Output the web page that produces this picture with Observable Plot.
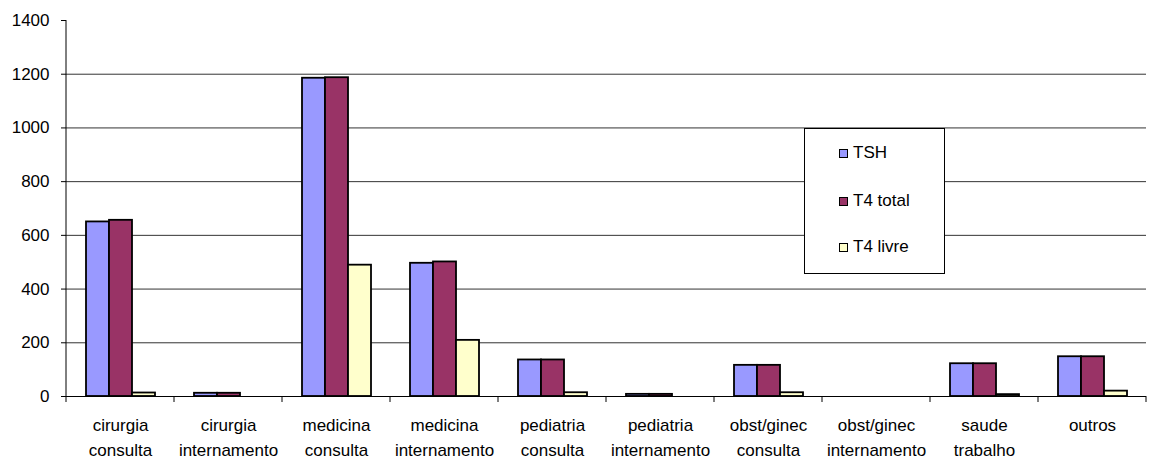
<!DOCTYPE html>
<html>
<head>
<meta charset="utf-8">
<script src="https://cdn.jsdelivr.net/npm/d3@7"></script>
<script src="https://cdn.jsdelivr.net/npm/@observablehq/plot@0.6"></script>
<style>
  html, body { margin: 0; padding: 0; background: #fff; }
  #wrap { position: relative; width: 1153px; height: 462px; font-family: "Liberation Sans", Arial, sans-serif; }
  #legend { position: absolute; left: 804px; top: 128px; width: 139px; height: 144px;
            border: 1px solid #000; background: #fff; font-size: 17px; color: #000; }
  #legend .item { position: absolute; left: 34px; display: flex; align-items: center; height: 20px; }
  #legend .sw { width: 7px; height: 7px; border: 1px solid #000; margin-right: 5px; }
</style>
</head>
<body>
<div id="wrap"></div>
<script>
// Hospital services and request counts per thyroid test
const categories = ["cirurgia consulta", "cirurgia internamento", "medicina consulta", "medicina internamento",
  "pediatria consulta", "pediatria internamento", "obst/ginec consulta", "obst/ginec internamento",
  "saude trabalho", "outros"];
const series = ["TSH", "T4 total", "T4 livre"];
const tsh     = [650, 12, 1185, 496, 136, 8, 116, 0, 122, 148];
const t4total = [656, 12, 1187, 501, 136, 8, 116, 0, 122, 148];
const t4livre = [13, 0, 489, 209, 14, 0, 14, 0, 7, 20];
const colors = ["#9999ff", "#993366", "#ffffcc"];
const yTicks = [0, 200, 400, 600, 800, 1000, 1200, 1400];
const gridValues = [200, 400, 600, 800, 1000, 1200];

const valuesBySeries = [tsh, t4total, t4livre];
const data = [];
categories.forEach((c, i) => series.forEach((s, j) => data.push({category: c, series: s, value: valuesBySeries[j][i]})));

const chart = Plot.plot({
  width: 1153,
  height: 462,
  marginLeft: 63,
  marginRight: 5,
  marginTop: 20,
  marginBottom: 66,
  style: {fontFamily: "'Liberation Sans', Arial, sans-serif", fontSize: "17px", color: "#000", background: "transparent"},
  fx: {domain: categories, padding: 0, label: null, axis: null},
  x: {domain: series, paddingInner: 0, paddingOuter: 0.76, axis: null},
  y: {domain: [0, 1400], axis: null},
  color: {domain: series, range: colors},
  marks: [
    Plot.ruleY(gridValues, {stroke: "#333", strokeWidth: 1}),
    Plot.barY(data, {fx: "category", x: "series", y: "value", fill: "series",
      stroke: "#000", strokeWidth: 1.8, filter: d => d.value > 0}),
    Plot.ruleY([0], {stroke: "#000", strokeWidth: 1}),
    Plot.axisY({ticks: yTicks, tickSize: 5, tickPadding: 12, fontSize: 17, label: null, stroke: "#000",
      tickFormat: d => String(d)}),
    Plot.axisFx({anchor: "bottom", tickSize: 0, tickPadding: 16, fontSize: 17, lineHeight: 1.5, label: null,
      tickFormat: d => d.replace(" ", "\n")})
  ]
});

document.getElementById("wrap").appendChild(chart);

// Vertical axis line and category boundary ticks, positioned through Plot's own scales
const fx = chart.scale("fx");
const y = chart.scale("y");
const svg = d3.select(chart);
const y0 = y.apply(0), yTop = y.apply(1400);
const left = fx.apply(categories[0]);
svg.append("line").attr("x1", left).attr("x2", left).attr("y1", yTop).attr("y2", y0)
  .attr("stroke", "#000");
const bounds = categories.map(c => fx.apply(c)).concat([fx.apply(categories[categories.length - 1]) + fx.bandwidth]);
svg.append("g").selectAll("line").data(bounds).join("line")
  .attr("x1", d => d).attr("x2", d => d).attr("y1", y0).attr("y2", y0 + 6)
  .attr("stroke", "#000");

// Legend box inside the plotting area
const legend = d3.select("#wrap").append("div").attr("id", "legend");
const tops = [14, 62, 108];
series.forEach((s, i) => {
  const item = legend.append("div").attr("class", "item").style("top", tops[i] + "px");
  item.append("div").attr("class", "sw").style("background", colors[i]);
  item.append("span").text(s);
});
</script>
</body>
</html>
